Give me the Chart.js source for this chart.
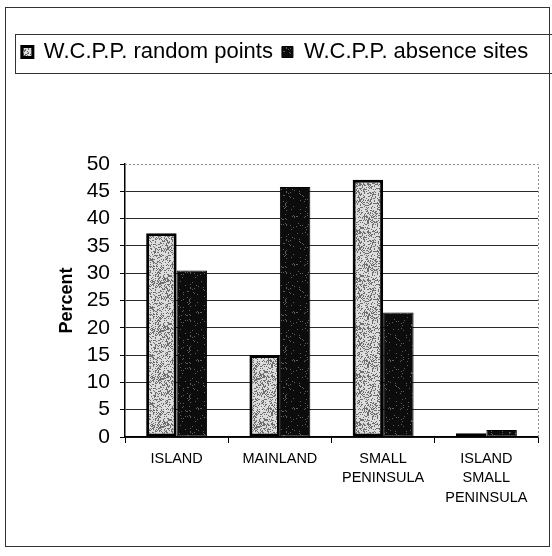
<!DOCTYPE html>
<html>
<head>
<meta charset="utf-8">
<script src="https://cdn.jsdelivr.net/npm/chart.js@4.4.0/dist/chart.umd.min.js"></script>
<style>
  html, body { margin: 0; padding: 0; background: #fff; }
  canvas { display: block; }
</style>
</head>
<body>
<canvas id="myChart" width="552" height="556"></canvas>
<script>
const categories = ['ISLAND', 'MAINLAND', ['SMALL', 'PENINSULA'], ['ISLAND', 'SMALL', 'PENINSULA']];
const randomPoints = [37.3, 15.0, 47.1, 0.7];
const absenceSites = [30.5, 45.8, 22.8, 1.3];
const yTicks = [0, 5, 10, 15, 20, 25, 30, 35, 40, 45, 50];

const FONT = '"Liberation Sans", Arial, sans-serif';

// grainy fills, like the photocopied original
function speckle(base, dot, share, seed) {
    const c = document.createElement('canvas');
    c.width = 48; c.height = 48;
    const g = c.getContext('2d');
    g.fillStyle = base;
    g.fillRect(0, 0, 48, 48);
    g.fillStyle = dot;
    let s = seed;
    for (let y = 0; y < 48; y++) {
        for (let x = 0; x < 48; x++) {
            s = (Math.imul(s, 1103515245) + 12345) >>> 0;
            if ((s >>> 8) % 1000 < share * 1000) g.fillRect(x, y, 1, 1);
        }
    }
    return g.createPattern(c, 'repeat');
}

const ctx = document.getElementById('myChart');
const lightFill = speckle('#dcdcdc', '#6e6e6e', 0.35, 7);
const darkFill = speckle('#0c0c0c', '#5e5e5e', 0.06, 11);

const frame = {
    id: 'frame',
    beforeLayout(chart) {
        // leave the empty band between legend and plot
        const legend = chart.legend;
        if (legend && !legend._tallFit) {
            const fit = legend.fit;
            legend.fit = function () {
                fit.call(this);
                this.height = 132;
            };
            legend._tallFit = true;
        }
    },
    beforeDatasetsDraw(chart) {
        const a = chart.chartArea;
        const c = chart.ctx;
        c.save();
        c.strokeStyle = '#8c8c8c';
        c.lineWidth = 1;
        c.setLineDash([2, 2]);
        c.beginPath();
        c.moveTo(a.left, a.top + 0.5);
        c.lineTo(a.right + 0.5, a.top + 0.5);
        c.lineTo(a.right + 0.5, a.bottom);
        c.stroke();
        c.restore();
    },
    afterDraw(chart) {
        const c = chart.ctx;
        c.save();
        c.strokeStyle = '#333';
        c.lineWidth = 1;
        c.strokeRect(5.5, 7.5, 544, 539);
        c.strokeRect(15.5, 34.5, 540, 39);
        c.restore();
    }
};

new Chart(ctx, {
    type: 'bar',
    data: {
        labels: categories,
        datasets: [{
            label: 'W.C.P.P. random points',
            data: randomPoints,
            backgroundColor: lightFill,
            borderColor: '#000',
            borderWidth: 3,
            borderSkipped: false
        }, {
            label: 'W.C.P.P. absence sites',
            data: absenceSites,
            backgroundColor: darkFill,
            borderColor: '#000',
            borderWidth: 1,
            borderSkipped: false
        }]
    },
    options: {
        responsive: false,
        animation: false,
        categoryPercentage: 0.59,
        barPercentage: 1.0,
        layout: { padding: { top: 32, right: 14, bottom: 0, left: 12 } },
        plugins: {
            tooltip: { enabled: false },
            legend: {
                position: 'top',
                labels: {
                    color: '#000',
                    font: { family: FONT, size: 22 },
                    boxWidth: 11,
                    boxHeight: 11,
                    padding: 9
                }
            }
        },
        scales: {
            x: {
                afterFit(scale) { scale.height = 119; },
                grid: {
                    display: true,
                    offset: true,
                    drawOnChartArea: false,
                    tickLength: 6,
                    color: '#000'
                },
                border: { color: '#000', width: 1.5 },
                ticks: {
                    color: '#000',
                    padding: 6,
                    maxRotation: 0,
                    autoSkip: false,
                    font: { family: FONT, size: 14.5, lineHeight: 1.35 }
                }
            },
            y: {
                min: 0,
                max: 50,
                afterFit(scale) { scale.width = 113; },
                afterBuildTicks(scale) { scale.ticks = yTicks.map(v => ({ value: v })); },
                grid: {
                    color: c => (c.tick && c.tick.value === 50 ? 'rgba(0,0,0,0)' : '#2a2a2a'),
                    tickColor: '#000',
                    tickLength: 5,
                    lineWidth: 1
                },
                border: { color: '#000', width: 1.5 },
                ticks: {
                    color: '#000',
                    padding: 10,
                    autoSkip: false,
                    font: { family: FONT, size: 21 }
                },
                title: {
                    display: true,
                    text: 'Percent',
                    color: '#000',
                    padding: { top: 44, bottom: 0 },
                    font: { family: FONT, size: 18, weight: 'bold' }
                }
            }
        }
    },
    plugins: [frame]
});
</script>
</body>
</html>
